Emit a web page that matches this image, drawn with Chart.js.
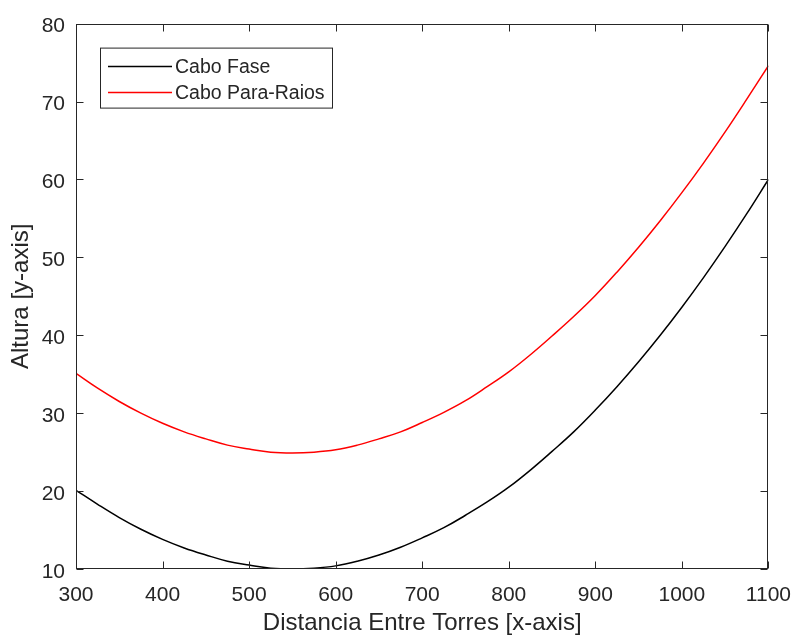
<!DOCTYPE html>
<html><head><meta charset="utf-8">
<script src="https://cdn.jsdelivr.net/npm/chart.js@4/dist/chart.umd.min.js"></script>
<style>html,body{margin:0;padding:0;background:#fff}#wrap{width:805px;height:644px}</style>
</head><body><div id="wrap"><canvas id="c" width="805" height="644"></canvas></div>
<script>
// ---- data ----
const distancia = [300,325,350,375,400,425,450,475,500,525,550,575,600,625,650,675,700,
                   725,750,775,800,825,850,875,900,925,950,975,1000,1025,1050,1075,1100];
const caboFase = [20.1,18.3,16.6,15.1,13.8,12.7,11.8,11.0,10.5,10.1,10.0,10.1,10.4,11.0,11.8,12.8,14.0,
                  15.3,16.9,18.6,20.5,22.7,25.1,27.6,30.4,33.4,36.6,40.0,43.6,47.4,51.4,55.6,60.0];
const caboParaRaios = [35.1,33.2,31.5,30.0,28.7,27.6,26.7,25.9,25.4,25.0,24.9,25.0,25.3,25.9,26.7,27.6,28.8,
                       30.1,31.6,33.4,35.3,37.5,39.9,42.4,45.1,48.1,51.3,54.7,58.3,62.1,66.1,70.3,74.6];
const seriesNames = ['Cabo Fase','Cabo Para-Raios'];
const seriesColors = ['#000000','#ff0000'];
const xTitle = 'Distancia Entre Torres [x-axis]';
const yTitle = 'Altura [y-axis]';
const xRange = [300,1100], xStep = 100;
const yRange = [10,80], yStep = 10;

const FONT = "'Liberation Sans', Arial, sans-serif";
const TXT = '#262626';

const framePlugin = {
  id:'frame',
  afterDraw(chart){
    const ctx = chart.ctx, a = chart.chartArea;
    const xs = chart.scales.x, ys = chart.scales.y;
    ctx.save();
    ctx.strokeStyle = TXT; ctx.lineWidth = 1;
    const L = Math.round(a.left)+0.5, R = Math.round(a.right)-0.5, T = Math.round(a.top)+0.5, B = Math.round(a.bottom)-0.5;
    ctx.strokeRect(L, T, R-L, B-T);
    const tl = 7;
    ctx.beginPath();
    xs.ticks.forEach(t=>{
      const px = Math.round(xs.getPixelForValue(t.value))+0.5;
      ctx.moveTo(px,B); ctx.lineTo(px,B-tl);
      ctx.moveTo(px,T); ctx.lineTo(px,T+tl);
    });
    ys.ticks.forEach(t=>{
      const py = Math.round(ys.getPixelForValue(t.value))+0.5;
      ctx.moveTo(L,py); ctx.lineTo(L+tl,py);
      ctx.moveTo(R,py); ctx.lineTo(R-tl,py);
    });
    ctx.stroke();
    // legend
    const bx = a.left+24, by = a.top+24, bw = 232, bh = 60;
    ctx.fillStyle = '#fff';
    ctx.fillRect(bx+0.5, by+0.5, bw, bh);
    ctx.strokeRect(bx+0.5, by+0.5, bw, bh);
    ctx.font = '19.5px ' + FONT;
    ctx.textBaseline = 'middle';
    ctx.textAlign = 'left';
    chart.data.datasets.forEach((ds,i)=>{
      const yy = by + 19 + i*26;
      ctx.strokeStyle = ds.borderColor; ctx.lineWidth = 1.5;
      ctx.beginPath(); ctx.moveTo(bx+8, yy); ctx.lineTo(bx+72, yy); ctx.stroke();
      ctx.fillStyle = TXT;
      ctx.fillText(ds.label, bx+75, yy+1);
    });
    ctx.restore();
  }
};

const plain = v => String(v);

new Chart(document.getElementById('c'), {
  type:'line',
  data:{
    datasets:[
      {label:seriesNames[0], data:distancia.map((x,i)=>({x, y:caboFase[i]})), borderColor:seriesColors[0], borderWidth:1.5, pointRadius:0, tension:0.4, fill:false},
      {label:seriesNames[1], data:distancia.map((x,i)=>({x, y:caboParaRaios[i]})), borderColor:seriesColors[1], borderWidth:1.5, pointRadius:0, tension:0.4, fill:false}
    ]
  },
  options:{
    responsive:false, animation:false, devicePixelRatio:1,
    layout:{padding:{top:14,right:26,left:0,bottom:0}},
    plugins:{legend:{display:false}, tooltip:{enabled:false}},
    scales:{
      x:{type:'linear', min:xRange[0], max:xRange[1],
        ticks:{stepSize:xStep, color:TXT, font:{family:FONT,size:21}, padding:14, maxRotation:0, autoSkip:false, callback:plain},
        grid:{display:false, drawTicks:false}, border:{display:false},
        title:{display:true, text:xTitle, color:TXT, font:{family:FONT,size:24}, padding:{top:0,bottom:6}},
        afterFit(s){ s.height = 75; }
      },
      y:{type:'linear', min:yRange[0], max:yRange[1],
        ticks:{stepSize:yStep, color:TXT, font:{family:FONT,size:21}, padding:11, labelOffset:3, callback:plain},
        grid:{display:false, drawTicks:false}, border:{display:false},
        title:{display:true, text:yTitle, color:TXT, font:{family:FONT,size:24}, padding:{top:7,bottom:0}},
        afterFit(s){ s.width = 76; }
      }
    }
  },
  plugins:[framePlugin]
});
</script></body></html>
